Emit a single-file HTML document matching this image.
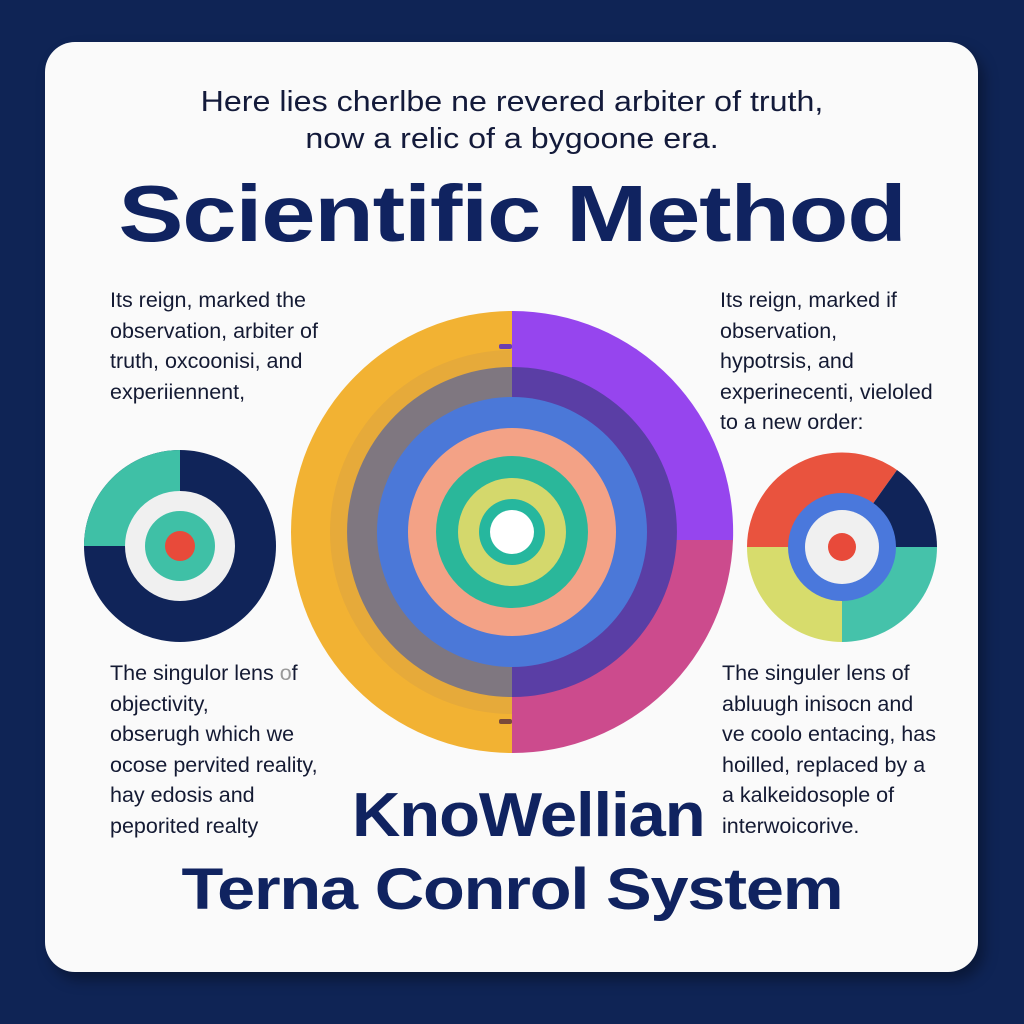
<!DOCTYPE html>
<html><head><meta charset="utf-8"><style>
*{margin:0;padding:0}
body{width:1024px;height:1024px;background:#0f2455;position:relative;overflow:hidden;font-family:"Liberation Sans",sans-serif;color:#0f1f45}
.card{position:absolute;left:45px;top:42px;width:933px;height:930px;background:#fafafa;border-radius:30px;box-shadow:6px 8px 14px rgba(0,0,0,.35)}
.t{position:absolute;white-space:nowrap}
.side{font-size:21.5px;line-height:30.5px;color:#141a33}
</style></head><body>
<div class="card"></div>
<div class="t" style="left:0;width:1024px;text-align:center;top:84px;font-size:29px;line-height:37px;color:#131a3a;transform:scaleX(1.11)">Here lies cherlbe ne revered arbiter of truth,<br>now a relic of a bygoone era.</div>
<div class="t" style="left:0;width:1024px;text-align:center;top:168px;font-size:80px;font-weight:bold;color:#102360;letter-spacing:-1px;transform:scaleX(1.22)">Scientific Method</div>
<div class="t side" style="left:110px;top:285px">Its reign, marked the<br>observation, arbiter of<br>truth, oxcoonisi, and<br>experiiennent,</div>
<div class="t side" style="left:720px;top:285px">Its reign, marked if<br>observation,<br>hypotrsis, and<br>experinecenti, vieloled<br>to a new order:</div>
<div class="t side" style="left:110px;top:658px">The singulor lens <span style="color:#999">o</span>f<br>objectivity,<br>obserugh which we<br>ocose pervited reality,<br>hay edosis and<br>peporited realty</div>
<div class="t side" style="left:722px;top:658px">The singuler lens of<br>abluugh inisocn and<br>ve coolo entacing, has<br>hoilled, replaced by a<br>a kalkeidosople of<br>interwoicorive.</div>
<div class="t" style="left:352px;top:780px;font-size:62px;font-weight:bold;color:#102360;letter-spacing:-1px;transform:scaleX(1.08);transform-origin:0 0">KnoWellian</div>
<div class="t" style="left:0;width:1024px;text-align:center;top:856px;font-size:58px;font-weight:bold;color:#102360;letter-spacing:-1px;transform:scaleX(1.18)">Terna Conrol System</div>
<svg width="1024" height="1024" style="position:absolute;left:0;top:0">
<g transform="translate(512,532)">
<path d="M0,-221 A221,221 0 0 0 0,221 Z" fill="#f2b233"/>
<path d="M0,-221 A221,221 0 0 1 221,8 L0,8 Z" fill="#9645ee"/>
<path d="M221,8 A221,221 0 0 1 0,221 L0,8 Z" fill="#cc4b8d"/>
<path d="M0,-182 A182,182 0 0 0 0,182 Z" fill="#e6aa3a"/>
<path d="M0,-165 A165,165 0 0 0 0,165 Z" fill="#7f7780"/>
<path d="M0,-165 A165,165 0 0 1 0,165 Z" fill="#5a3ea5"/>
<circle r="135" fill="#4b78d8"/>
<circle r="104" fill="#f3a286"/>
<circle r="76" fill="#2ab79a"/>
<circle r="54" fill="#d4d86c"/>
<circle r="33" fill="#26b79e"/>
<circle r="22" fill="#fff"/>
<rect x="-13" y="-188" width="13" height="5" fill="#6a3fb0" rx="2"/>
<rect x="-13" y="187" width="13" height="5" fill="#7a4a3a" rx="2"/>
</g>
<g transform="translate(180,546)">
<circle r="96" fill="#102459"/>
<path d="M0,0 L0,-96 A96,96 0 0 0 -96,0 Z" fill="#3fc0a6"/>
<circle r="55" fill="#f0f0f0"/>
<circle r="35" fill="#3fc0a6"/>
<circle r="15" fill="#e84a3a"/>
</g>
<g transform="translate(842,547)">
<path d="M0,0 L-95,0 A95,95 0 0 1 55,-77 Z" fill="#e9533e"/>
<path d="M0,0 L55,-77 A95,95 0 0 1 95,0 Z" fill="#102459"/>
<path d="M0,0 L95,0 A95,95 0 0 1 0,95 Z" fill="#45c2aa"/>
<path d="M0,0 L0,95 A95,95 0 0 1 -95,0 Z" fill="#d7dc6c"/>
<circle r="54" fill="#4a78dc"/>
<circle r="37" fill="#f0f0f0"/>
<circle r="14" fill="#e84a3a"/>
</g>
</svg>
</body></html>
